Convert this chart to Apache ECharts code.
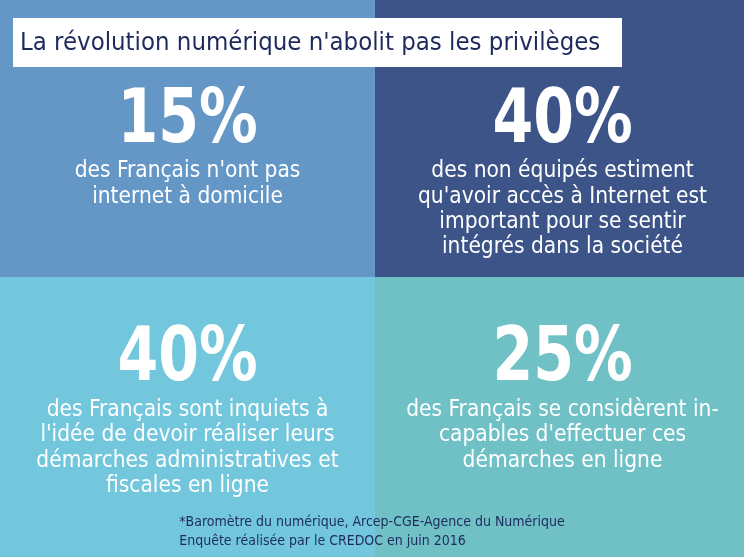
<!DOCTYPE html>
<html>
<head>
<meta charset="utf-8">
<script src="https://cdn.jsdelivr.net/npm/echarts@6/dist/echarts.min.js"></script>
<style>
html,body{margin:0;padding:0;background:#fff;}
#chart{width:744px;height:557px;}
</style>
</head>
<body>
<div id="chart"></div>
<script>
// ---- Data ----
const colonnes = ['gauche', 'droite'];
const lignes = ['bas', 'haut'];
const celluleColonne = [0, 1, 0, 1];
const celluleLigne = [1, 1, 0, 0];
const valeurs = [15, 40, 40, 25];
const descriptions = [
  ["des Français n'ont pas", "internet à domicile"],
  ["des non équipés estiment", "qu'avoir accès à Internet est", "important pour se sentir", "intégrés dans la société"],
  ["des Français sont inquiets à", "l'idée de devoir réaliser leurs", "démarches administratives et", "fiscales en ligne"],
  ["des Français se considèrent in-", "capables d'effectuer ces", "démarches en ligne"]
];
const titre = "La révolution numérique n'abolit pas les privilèges";
const sources = ["*Baromètre du numérique, Arcep-CGE-Agence du Numérique", "Enquête réalisée par le CREDOC en juin 2016"];

// ---- Styles ----
const palette = ['#6497c6', '#3c5488', '#72c7dc', '#70c1c6'];
const textFont = '"DejaVu Sans Condensed", sans-serif';
const numFont = '"DejaVu Sans Condensed", sans-serif';

const data = valeurs.map((v, i) => [celluleColonne[i], celluleLigne[i], v, i]);

const chart = echarts.init(document.getElementById('chart'), null, {renderer: 'canvas'});
chart.setOption({
  animation: false,
  grid: {left: 0, top: -3, width: 750, height: 560, outerBoundsMode: 'none', containLabel: false},
  xAxis: {type: 'category', data: colonnes, show: false},
  yAxis: {type: 'category', data: lignes, show: false},
  series: [{
    type: 'custom',
    data: data,
    clip: false,
    renderItem: function (params, api) {
      const c = api.coord([api.value(0), api.value(1)]);
      const s = api.size([1, 1]);
      const i = api.value(3);
      const x0 = c[0] - s[0] / 2, y0 = c[1] - s[1] / 2;
      const haut = api.value(1) === 1;
      const numY = y0 + (haut ? 126 : 84);
      const descY = y0 + (haut ? 162 : 120.5);
      return {
        type: 'group',
        children: [
          {type: 'rect', shape: {x: x0, y: y0, width: s[0], height: s[1]}, style: {fill: palette[i]}},
          {type: 'text', x: c[0], y: numY, scaleX: 0.88, style: {
            text: api.value(2) + '%', x: 0, y: 0, align: 'center', verticalAlign: 'middle',
            fill: '#ffffff', font: 'bold 74px ' + numFont
          }},
          {type: 'text', style: {
            text: descriptions[i].join('\n'), x: c[0], y: descY, align: 'center', verticalAlign: 'top',
            fill: '#ffffff', font: '22.5px ' + textFont, lineHeight: 25.3
          }}
        ]
      };
    }
  }],
  graphic: [
    {type: 'rect', left: 13, top: 18, shape: {width: 609, height: 49}, style: {fill: '#ffffff'}, z: 10},
    {type: 'text', left: 20, top: 30, style: {text: titre, fill: '#1f2a5c', font: '25.5px ' + textFont}, z: 11},
    {type: 'text', left: 'center', top: 513, style: {text: sources.join('\n'), fill: '#1e2b5e', font: '14px ' + textFont, align: 'center', lineHeight: 19}, z: 11}
  ]
});
</script>
</body>
</html>
